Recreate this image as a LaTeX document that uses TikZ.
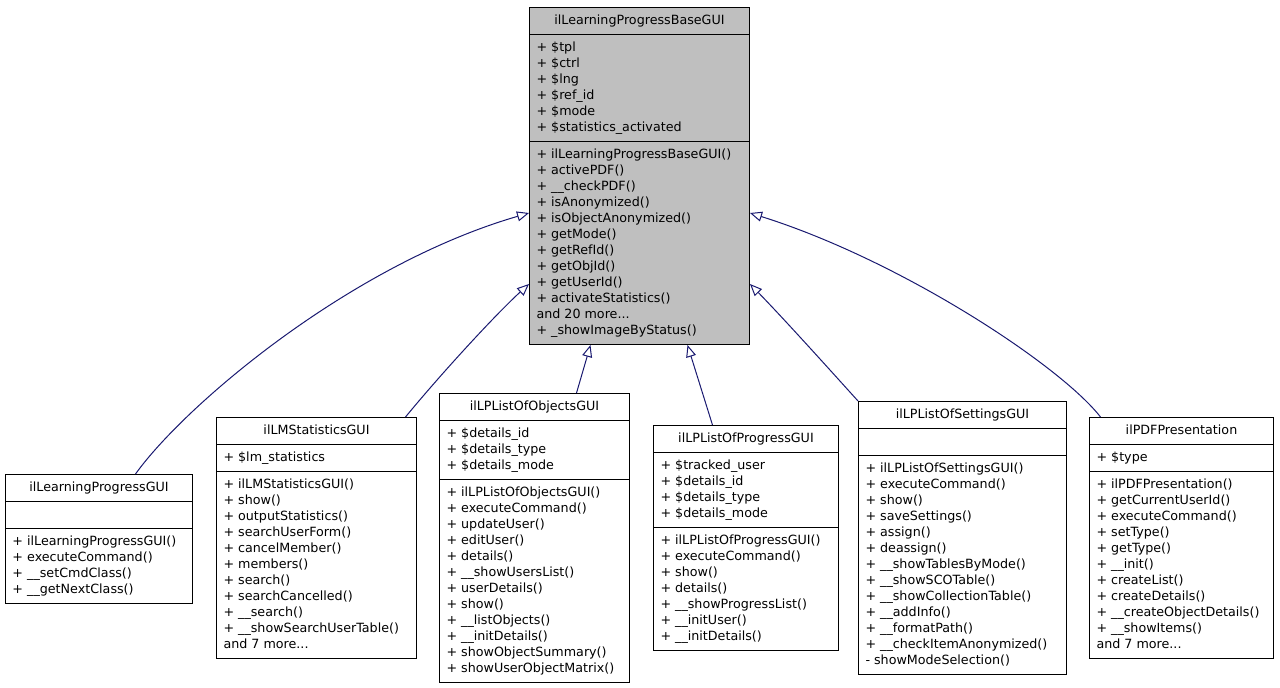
\documentclass[tikz,border=0pt]{standalone}
\usepackage{fontspec}
\setmainfont{DejaVu Sans}
\usetikzlibrary{shapes.multipart,arrows.meta}

\definecolor{edgeblue}{HTML}{191970}
\definecolor{basegray}{HTML}{BFBFBF}
\newcommand{\members}[1]{\begin{tabular}{@{}l@{}}#1\end{tabular}}

\tikzset{
  umlclass/.style={draw=black, line width=1pt, anchor=north west,
    rectangle split, rectangle split parts=3,
    rectangle split part align={center,left,left},
    inner xsep=7pt, inner ysep=5pt,
    font=\fontsize{12.7}{16}\selectfont},
  generalize/.style={draw=edgeblue, line width=1pt,
    -{Triangle[open,length=12pt,width=10pt]}}
}

\begin{document}
\begin{tikzpicture}[x=1pt,y=-1pt]
\useasboundingbox (0,0) rectangle (1280,688);

\node[umlclass, fill=basegray, minimum width=220pt] (base) at (529,7) {\strut ilLearningProgressBaseGUI
  \nodepart{second}\members{+ \$tpl\\+ \$ctrl\\+ \$lng\\+ \$ref\_id\\+ \$mode\\+ \$statistics\_activated}
  \nodepart{third}\members{+ ilLearningProgressBaseGUI()\\+ activePDF()\\+ \_\_checkPDF()\\+ isAnonymized()\\+ isObjectAnonymized()\\+ getMode()\\+ getRefId()\\+ getObjId()\\+ getUserId()\\+ activateStatistics()\\and 20 more...\\+ \_showImageByStatus()}};

\node[umlclass, minimum width=187pt] (lpgui) at (5,474) {\strut ilLearningProgressGUI
  \nodepart{second}\strut
  \nodepart{third}\members{+ ilLearningProgressGUI()\\+ executeCommand()\\+ \_\_setCmdClass()\\+ \_\_getNextClass()}};

\node[umlclass, minimum width=200pt] (lmstats) at (216,417) {\strut ilLMStatisticsGUI
  \nodepart{second}\members{+ \$lm\_statistics}
  \nodepart{third}\members{+ ilLMStatisticsGUI()\\+ show()\\+ outputStatistics()\\+ searchUserForm()\\+ cancelMember()\\+ members()\\+ search()\\+ searchCancelled()\\+ \_\_search()\\+ \_\_showSearchUserTable()\\and 7 more...}};

\node[umlclass, minimum width=190pt] (lpobjects) at (439,393) {\strut ilLPListOfObjectsGUI
  \nodepart{second}\members{+ \$details\_id\\+ \$details\_type\\+ \$details\_mode}
  \nodepart{third}\members{+ ilLPListOfObjectsGUI()\\+ executeCommand()\\+ updateUser()\\+ editUser()\\+ details()\\+ \_\_showUsersList()\\+ userDetails()\\+ show()\\+ \_\_listObjects()\\+ \_\_initDetails()\\+ showObjectSummary()\\+ showUserObjectMatrix()}};

\node[umlclass, minimum width=185pt] (lpprogress) at (653,425) {\strut ilLPListOfProgressGUI
  \nodepart{second}\members{+ \$tracked\_user\\+ \$details\_id\\+ \$details\_type\\+ \$details\_mode}
  \nodepart{third}\members{+ ilLPListOfProgressGUI()\\+ executeCommand()\\+ show()\\+ details()\\+ \_\_showProgressList()\\+ \_\_initUser()\\+ \_\_initDetails()}};

\node[umlclass, minimum width=208pt] (lpsettings) at (858,401) {\strut ilLPListOfSettingsGUI
  \nodepart{second}\strut
  \nodepart{third}\members{+ ilLPListOfSettingsGUI()\\+ executeCommand()\\+ show()\\+ saveSettings()\\+ assign()\\+ deassign()\\+ \_\_showTablesByMode()\\+ \_\_showSCOTable()\\+ \_\_showCollectionTable()\\+ \_\_addInfo()\\+ \_\_formatPath()\\+ \_\_checkItemAnonymized()\\- showModeSelection()}};

\node[umlclass, minimum width=184pt] (pdfpres) at (1089,417) {\strut ilPDFPresentation
  \nodepart{second}\members{+ \$type}
  \nodepart{third}\members{+ ilPDFPresentation()\\+ getCurrentUserId()\\+ executeCommand()\\+ setType()\\+ getType()\\+ \_\_init()\\+ createList()\\+ createDetails()\\+ \_\_createObjectDetails()\\+ \_\_showItems()\\and 7 more...}};

\draw[generalize] ([xshift=36.5pt]lpgui.north) .. controls (185,405) and (350,265) .. ([yshift=-37pt]base.west);
\draw[generalize] ([xshift=89pt]lmstats.north) .. controls (440,375) and (495,315) .. ([yshift=-108pt]base.west);
\draw[generalize] ([xshift=42pt]lpobjects.north) -- ([xshift=-49pt]base.south);
\draw[generalize] ([xshift=-33.5pt]lpprogress.north) -- ([xshift=48pt]base.south);
\draw[generalize] (lpsettings.north west) .. controls (830,370) and (785,320) .. ([yshift=-108pt]base.east);
\draw[generalize] ([xshift=-81pt]pdfpres.north) .. controls (1060,365) and (900,260) .. ([yshift=-37pt]base.east);
\end{tikzpicture}
\end{document}
